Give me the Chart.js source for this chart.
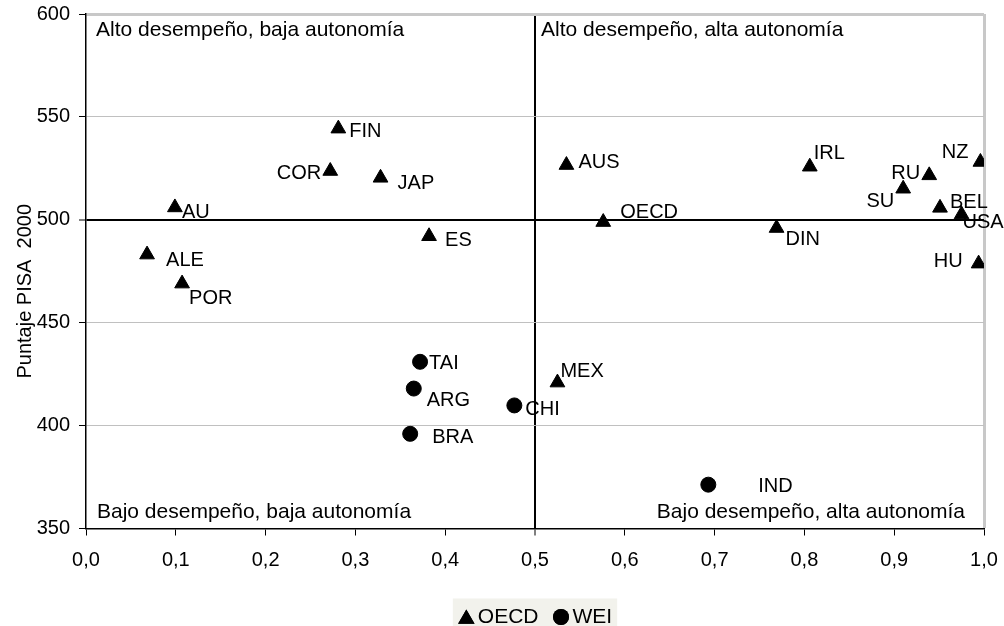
<!DOCTYPE html>
<html>
<head>
<meta charset="utf-8">
<script src="https://cdn.jsdelivr.net/npm/chart.js@4.4.1/dist/chart.umd.min.js"></script>
<style>
  html, body { margin: 0; padding: 0; background: #fff; }
  #wrap { width: 1004px; height: 626px; }
</style>
</head>
<body>
<div id="wrap"><canvas id="chart" width="1004" height="626"></canvas></div>
<script>
// autonomy index (x) vs PISA 2000 score (y)
const oecdNames    = ['FIN', 'COR', 'JAP', 'AU', 'ALE', 'POR', 'ES', 'AUS', 'OECD', 'DIN', 'IRL', 'RU', 'SU', 'NZ', 'BEL', 'USA', 'HU', 'MEX'];
const oecdAutonomy = [0.281, 0.272, 0.328, 0.099, 0.068, 0.107, 0.382, 0.535, 0.576, 0.769, 0.806, 0.939, 0.910, 0.996, 0.951, 0.975, 0.994, 0.525];
const oecdScore    = [544.3, 523.7, 520.4, 506.0, 483.1, 469.0, 492.0, 526.6, 498.9, 496.0, 525.8, 521.6, 515.1, 528.1, 505.8, 502.6, 478.7, 420.9];

const weiNames    = ['TAI', 'ARG', 'CHI', 'BRA', 'IND'];
const weiAutonomy = [0.372, 0.365, 0.477, 0.361, 0.693];
const weiScore    = [431.0, 418.0, 409.8, 396.0, 371.3];

const seriesLabels = ['OECD', 'WEI'];
const quadrantLabels = [
  'Alto desempeño, baja autonomía',
  'Alto desempeño, alta autonomía',
  'Bajo desempeño, baja autonomía',
  'Bajo desempeño, alta autonomía'
];
const yTitle = 'Puntaje PISA  2000';
const refAutonomy = 0.5;
const refScore = 500;
const xMin = 0, xMax = 1, xStep = 0.1;
const yMin = 350, yMax = 600, yStep = 50;

const FONT = '"Liberation Sans", Arial, sans-serif';

// label placement next to each marker: [dx, dy, align]
const labelPos = {
  FIN: [11, 3, 'left'], COR: [-9, 2, 'right'], JAP: [17, 6, 'left'], AU: [7, 5, 'left'],
  ALE: [19, 6, 'left'], POR: [7, 15, 'left'], ES: [16, 4, 'left'], AUS: [12, -3, 'left'],
  OECD: [17, -10, 'left'], DIN: [9, 11, 'left'], IRL: [4, -13, 'left'], RU: [-9, -2, 'right'],
  SU: [-9, 13, 'right'], NZ: [-12, -9, 'right'], BEL: [10, -5, 'left'], USA: [1, 8, 'left'],
  HU: [-16, -2, 'right'], MEX: [3, -11, 'left'],
  TAI: [9, 2, 'left'], ARG: [13, 12, 'left'], CHI: [11, 4, 'left'], BRA: [22, 4, 'left'], IND: [50, 2, 'left']
};

function toPoints(xs, ys) {
  return xs.map((x, i) => ({ x: x, y: ys[i] }));
}

const extras = {
  id: 'extras',
  afterDatasetsDraw(chart) {
    const ctx = chart.ctx;
    const area = chart.chartArea;
    const xs = chart.scales.x;
    ctx.save();
    ctx.fillStyle = '#000';
    ctx.font = '20px ' + FONT;
    ctx.textBaseline = 'middle';

    // point labels
    chart.data.datasets.forEach((ds, di) => {
      const meta = chart.getDatasetMeta(di);
      ds.names.forEach((name, i) => {
        const p = meta.data[i];
        const o = labelPos[name] || [8, 0, 'left'];
        ctx.textAlign = o[2];
        ctx.fillText(name, p.x + o[0], p.y + o[1]);
      });
    });

    // y axis title
    ctx.save();
    ctx.translate(25, (area.top + area.bottom) / 2 + 20);
    ctx.rotate(-Math.PI / 2);
    ctx.textAlign = 'center';
    ctx.fillText(yTitle, 0, 0);
    ctx.restore();

    // legend with shaded box
    ctx.font = '21px ' + FONT;
    const items = chart.data.datasets.map(ds => ({ text: ds.label, style: ds.pointStyle }));
    const mark = 17, gapText = 3, gapItem = 14, pad = 5;
    let total = pad * 2;
    items.forEach((it, i) => {
      total += mark + gapText + ctx.measureText(it.text).width + (i < items.length - 1 ? gapItem : 0);
    });
    const cx = (area.left + area.right) / 2;
    const boxTop = area.bottom + 70;
    const boxH = 29;
    let x = cx - total / 2;
    ctx.fillStyle = '#f2f2ec';
    ctx.fillRect(x, boxTop, total, boxH);
    ctx.fillStyle = '#000';
    ctx.textAlign = 'left';
    x += pad;
    const ly = boxTop + boxH / 2 + 4;
    items.forEach(it => {
      const tri = it.style === 'triangle';
      Chart.helpers.drawPoint(ctx, { pointStyle: it.style, radius: tri ? 9.5 : 8, borderWidth: 0 }, x + mark / 2, ly + (tri ? 2 : 0));
      ctx.fill();
      ctx.fillText(it.text, x + mark + gapText, ly);
      x += mark + gapText + ctx.measureText(it.text).width + gapItem;
    });

    // quadrant captions
    const midX = xs.getPixelForValue(refAutonomy);
    ctx.textAlign = 'left';
    ctx.fillText(quadrantLabels[0], area.left + 10, area.top + 16);
    ctx.fillText(quadrantLabels[1], midX + 6, area.top + 16);
    ctx.fillText(quadrantLabels[2], area.left + 11, area.bottom - 16);
    ctx.textAlign = 'right';
    ctx.fillText(quadrantLabels[3], area.right - 19, area.bottom - 16);
    ctx.restore();
  }
};

new Chart(document.getElementById('chart'), {
  type: 'scatter',
  data: {
    datasets: [
      {
        label: seriesLabels[0],
        names: oecdNames,
        data: toPoints(oecdAutonomy, oecdScore),
        pointStyle: 'triangle',
        pointRadius: 8.5,
        pointHoverRadius: 8.5,
        backgroundColor: '#000',
        borderColor: '#000',
        borderWidth: 1
      },
      {
        label: seriesLabels[1],
        names: weiNames,
        data: toPoints(weiAutonomy, weiScore),
        pointStyle: 'circle',
        pointRadius: 7.5,
        pointHoverRadius: 7.5,
        backgroundColor: '#000',
        borderColor: '#000',
        borderWidth: 1
      }
    ]
  },
  options: {
    responsive: false,
    animation: false,
    events: [],
    layout: { padding: { top: 14, left: 0, right: 20, bottom: 40.5 } },
    plugins: {
      legend: { display: false },
      tooltip: { enabled: false }
    },
    scales: {
      x: {
        type: 'linear',
        min: xMin,
        max: xMax,
        afterFit: s => { s.paddingLeft = 0; s.paddingRight = 0; },
        ticks: {
          stepSize: xStep,
          padding: 13,
          color: '#000',
          font: { family: FONT, size: 20 },
          callback: v => v.toFixed(1).replace('.', ',')
        },
        grid: {
          color: c => c.tick && Math.abs(c.tick.value - refAutonomy) < 1e-9 ? '#000'
                    : (c.tick && Math.abs(c.tick.value - xMax) < 1e-9 ? '#c8c8c8' : 'rgba(0,0,0,0)'),
          lineWidth: c => c.tick && Math.abs(c.tick.value - refAutonomy) < 1e-9 ? 2
                    : (c.tick && Math.abs(c.tick.value - xMax) < 1e-9 ? 3 : 1),
          tickColor: '#000',
          tickWidth: 1,
          tickLength: 7
        },
        border: { color: '#000', width: 1.5 }
      },
      y: {
        type: 'linear',
        min: yMin,
        max: yMax,
        afterFit: s => { s.width = 86; s.paddingTop = 0; s.paddingBottom = 0; },
        ticks: {
          stepSize: yStep,
          padding: 9,
          color: '#000',
          font: { family: FONT, size: 20 }
        },
        grid: {
          color: c => c.tick && c.tick.value === refScore ? '#000' : (c.tick && c.tick.value === yMax ? '#c8c8c8' : '#c0c0c0'),
          lineWidth: c => c.tick && c.tick.value === refScore ? 2 : (c.tick && c.tick.value === yMax ? 3 : 1),
          tickColor: '#000',
          tickWidth: 1,
          tickLength: 7
        },
        border: { color: '#000', width: 1.5 }
      }
    }
  },
  plugins: [extras]
});
</script>
</body>
</html>
